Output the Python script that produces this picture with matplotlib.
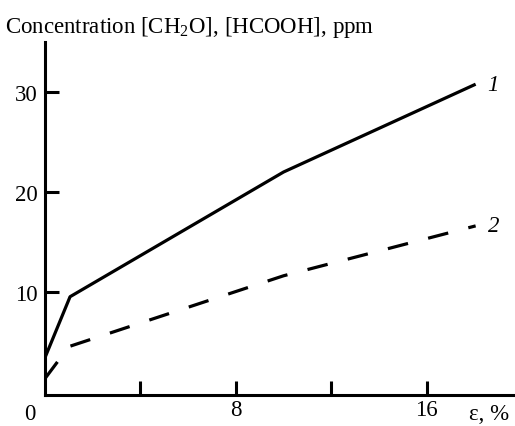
import matplotlib
matplotlib.use("Agg")
import matplotlib.pyplot as plt

plt.rcParams["font.family"] = "Liberation Serif"
plt.rcParams["mathtext.fontset"] = "custom"
plt.rcParams["mathtext.rm"] = "Liberation Serif"
plt.rcParams["mathtext.default"] = "regular"

# strain, %
eps_1 = [0, 1.05, 10, 18.05]
conc_1 = [3.4, 9.5, 22.0, 30.8]   # [CH2O]

eps_2 = [0, 1.0, 10, 18.05]
conc_2 = [1.3, 4.5, 11.6, 16.6]   # [HCOOH]

x_ticks = [4, 8, 12, 16]
x_labels = ["", "8", "", "16"]
y_ticks = [10, 20, 30]

fs = 16.5

fig = plt.figure(figsize=(5.15, 4.27), dpi=100)
ax = fig.add_axes([0.0874, 0.0726, 0.9126, 0.826])

ax.plot(eps_1, conc_1, color="black", lw=2.3, solid_capstyle="butt")
ax.plot(eps_2, conc_2, color="black", lw=2.3, dashes=(6.5, 6.5))

ax.set_xlim(0, 19.7)
ax.set_ylim(-0.35, 35)

ax.set_xticks(x_ticks)
ax.set_xticklabels(x_labels)
ax.set_yticks(y_ticks)
ax.tick_params(direction="in", length=10, width=2.2, labelsize=fs)
ax.tick_params(axis="x", pad=3)
ax.tick_params(axis="y", pad=5)

for side in ["top", "right"]:
    ax.spines[side].set_visible(False)
for side in ["left", "bottom"]:
    ax.spines[side].set_linewidth(2.2)

ax.text(-0.032, -0.022, "0", transform=ax.transAxes, fontsize=fs,
        ha="center", va="top")
ax.text(0.903, -0.022, "ε, %", transform=ax.transAxes, fontsize=fs,
        ha="left", va="top")

ax.text(18.55, conc_1[-1], "1", fontsize=fs, style="italic",
        ha="left", va="center")
ax.text(18.55, conc_2[-1], "2", fontsize=fs, style="italic",
        ha="left", va="center")

fig.text(0.01, 0.923, "Concentration [CH$_2$O], [HCOOH], ppm", fontsize=fs,
         ha="left", va="baseline")

fig.savefig("out.png", dpi=100)
